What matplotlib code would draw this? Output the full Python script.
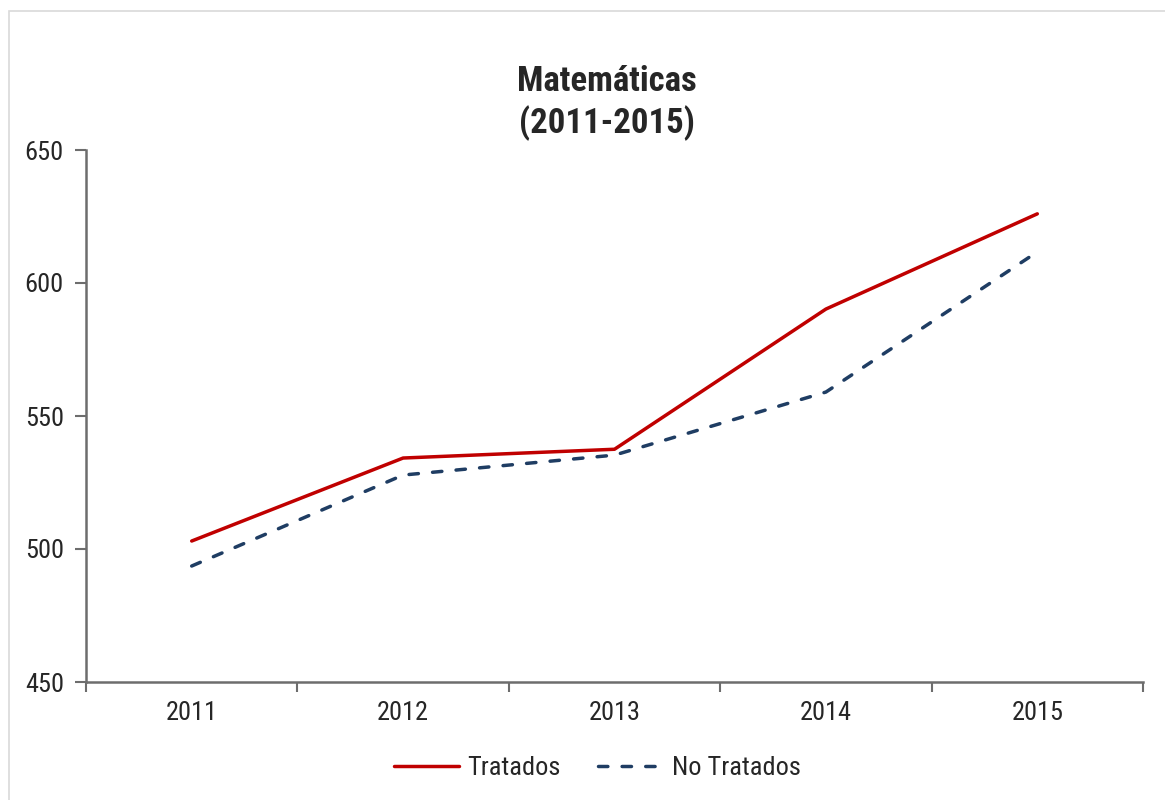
import matplotlib.pyplot as plt
from matplotlib.patches import Rectangle

years = ['2011', '2012', '2013', '2014', '2015']
tratados = [503, 534.2, 537.5, 590.2, 626]
no_tratados = [493.6, 527.8, 535.3, 559, 611.7]

plt.rcParams['font.family'] = ['Roboto Condensed', 'Liberation Sans', 'DejaVu Sans']
txt = '#262626'
axcol = '#6d6d6d'

fig = plt.figure(figsize=(11.65, 8), dpi=100)
fig.patches.append(Rectangle((9/1165, -0.1), 1.2, 1 - 11/800 + 0.1, transform=fig.transFigure,
                             fill=False, ec='#d9d9d9', lw=1.2))
ax = fig.add_axes([86/1165, 1 - 682/800, (1143 - 86)/1165, (682 - 150)/800])

x = list(range(1, len(years) + 1))
ax.plot(x, tratados, color='#c00000', lw=2.5, solid_capstyle='round', label='Tratados')
ax.plot(x, no_tratados, color='#1f3d63', lw=2.5, ls=(0, (2.7, 4.1)), dash_capstyle='round',
        label='No Tratados')

ax.set_xlim(0.5, len(years) + 0.5)
ax.set_ylim(450, 650)
ax.set_yticks([450, 500, 550, 600, 650])
ax.set_xticks([i + 0.5 for i in range(len(years) + 1)])
ax.set_xticklabels([])
ax.set_xticks(x, minor=True)
ax.set_xticklabels(years, minor=True)
ax.tick_params(axis='x', which='minor', length=0, pad=14, labelsize=19, labelcolor=txt)
ax.tick_params(axis='x', which='major', length=7, width=1.5, color=axcol, direction='out')
ax.tick_params(axis='y', length=8, width=1.5, color=axcol, labelsize=19, labelcolor=txt, pad=8)

for s in ['top', 'right']:
    ax.spines[s].set_visible(False)
for s in ['left', 'bottom']:
    ax.spines[s].set_color(axcol)
    ax.spines[s].set_linewidth(1.8)

fig.text(607/1165, 1 - 103/800, 'Matemáticas\n(2011-2015)', ha='center', va='center',
         fontsize=25, fontweight='bold', color=txt, linespacing=1.25)

fig.legend(loc='center', bbox_to_anchor=(597/1165, 1 - 768/800), ncol=2, frameon=False,
           fontsize=19, handlelength=2.5, columnspacing=1.4, handletextpad=0.3,
           labelcolor=txt)

plt.savefig('out.png')
